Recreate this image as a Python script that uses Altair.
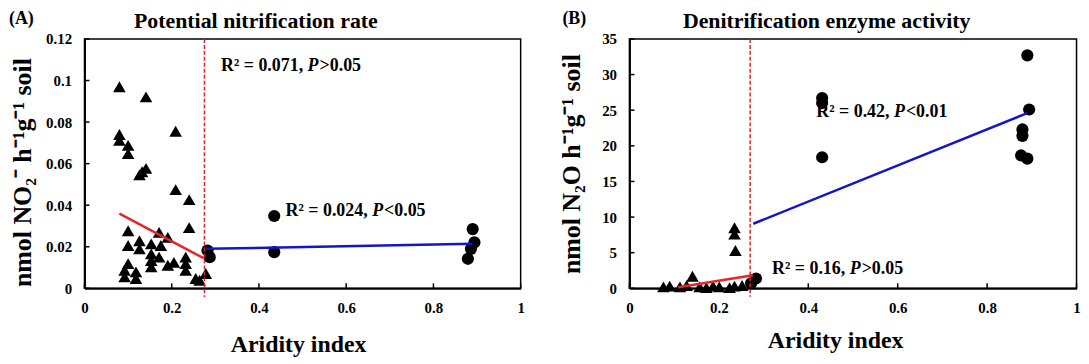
import altair as alt
import pandas as pd

FONT = "Liberation Serif"

# ---------------- shared axis ticks ----------------
x_ticks = [0, 0.2, 0.4, 0.6, 0.8, 1]
a_y_ticks = [0, 0.02, 0.04, 0.06, 0.08, 0.1, 0.12]
b_y_ticks = [0, 5, 10, 15, 20, 25, 30, 35]

# ---------------- Panel A: potential nitrification rate ----------------
a_tri_x = [0.080, 0.141, 0.209, 0.080, 0.080, 0.100, 0.100, 0.126, 0.141, 0.132,
           0.209, 0.240, 0.240, 0.100, 0.100, 0.126, 0.126, 0.153, 0.171, 0.191,
           0.175, 0.153, 0.153, 0.153, 0.100, 0.092, 0.092, 0.118, 0.118, 0.191,
           0.232, 0.232, 0.232, 0.171, 0.255, 0.278, 0.264, 0.205]
a_tri_y = [0.0970, 0.0921, 0.0756, 0.0740, 0.0712, 0.0688, 0.0648, 0.0546, 0.0577, 0.0561,
           0.0475, 0.0427, 0.0292, 0.0277, 0.0206, 0.0229, 0.0190, 0.0214, 0.0269, 0.0245,
           0.0206, 0.0166, 0.0134, 0.0103, 0.0119, 0.0087, 0.0055, 0.0079, 0.0047, 0.0111,
           0.0150, 0.0119, 0.0087, 0.0150, 0.0047, 0.0071, 0.0039, 0.0125]
a_cir_x = [0.435, 0.435, 0.282, 0.287, 0.890, 0.894, 0.886, 0.879]
a_cir_y = [0.0348, 0.0174, 0.0182, 0.0150, 0.0285, 0.0221, 0.0190, 0.0142]
a_red_x = [0.080, 0.273]
a_red_y = [0.0359, 0.0145]
a_blue_x = [0.279, 0.890]
a_blue_y = [0.0190, 0.0214]
a_cut = 0.275
a_anno_x = [0.313, 0.461]
a_anno_y = [0.1068, 0.0372]
a_anno_pre = ["R\u00b2 = 0.071,", "R\u00b2 = 0.024,"]
a_anno_post = [">0.05", "<0.05"]

# ---------------- Panel B: denitrification enzyme activity ----------------
b_tri_x = [0.076, 0.090, 0.113, 0.141, 0.157, 0.172, 0.187, 0.201, 0.224, 0.235,
           0.252, 0.235, 0.235, 0.237, 0.128]
b_tri_y = [0.2, 0.3, 0.2, 1.7, 0.2, 0.1, 0.3, 0.2, 0.1, 0.3,
           0.4, 8.5, 7.6, 5.3, 0.4]
b_cir_x = [0.283, 0.272, 0.431, 0.431, 0.431, 0.890, 0.894, 0.879, 0.879, 0.876, 0.890]
b_cir_y = [1.38, 0.7, 26.7, 26.0, 18.4, 32.7, 25.1, 22.3, 21.4, 18.65, 18.2]
b_red_x = [0.109, 0.276]
b_red_y = [0.14, 1.84]
b_blue_x = [0.277, 0.890]
b_blue_y = [9.06, 24.6]
b_cut = 0.27
b_anno_x = [0.418, 0.319]
b_anno_y = [24.8, 2.76]
b_anno_pre = ["R\u00b2 = 0.42,", "R\u00b2 = 0.16,"]
b_anno_post = ["<0.01", ">0.05"]

ANNO_FS = 18


def panel(W, H, ymax, yticks, yfmt, ylow, tri_x, tri_y, cir_x, cir_y, red_x, red_y,
          blue_x, blue_y, cut, ytitle, ytx, yty, xtx, xty, title, title_cx,
          tag, tag_x, anno_x, anno_y, anno_pre, anno_post, pre_em):
    xs = alt.Scale(domain=[0, 1], nice=False, zero=False)
    ys = alt.Scale(domain=[0, ymax], nice=False)
    xax = alt.Axis(values=x_ticks, format=".1~f", ticks=False, tickSize=0, grid=False,
                   domainColor="black", domainWidth=2,
                   labelFont=FONT, labelFontSize=15, labelFontWeight="bold",
                   labelColor="black", labelPadding=12, labelFlush=False,
                   labelOverlap=False,
                   title="Aridity index", titleFont=FONT, titleFontSize=24,
                   titleFontWeight="bold", titleColor="black", titleX=xtx,
                   titleY=xty, titleBaseline="middle", titleAlign="center")
    yax = alt.Axis(values=yticks, format=yfmt, ticks=False, tickSize=0, grid=False,
                   domainColor="black", domainWidth=2,
                   labelFont=FONT, labelFontSize=15, labelFontWeight="bold",
                   labelColor="black", labelPadding=13, labelFlush=False,
                   labelOverlap=False,
                   title=ytitle, titleFont=FONT, titleFontSize=26,
                   titleFontWeight="bold", titleColor="black", titleX=ytx,
                   titleY=yty, titleAngle=-90, titleBaseline="middle",
                   titleAlign="center")

    def X(f):
        return alt.X(f, type="quantitative", scale=xs, axis=xax)

    def Y(f):
        return alt.Y(f, type="quantitative", scale=ys, axis=yax)

    layers = []
    # annotations (drawn under the markers)
    for i in range(len(anno_x)):
        d = pd.DataFrame({"x": [anno_x[i]], "y": [anno_y[i]],
                          "a": [anno_pre[i]], "b": ["P"], "c": [anno_post[i]]})
        base = alt.Chart(d).encode(x=X("x"), y=Y("y"))
        dxp = pre_em[i] * ANNO_FS
        layers.append(base.mark_text(font=FONT, fontSize=ANNO_FS, fontWeight="bold",
                                     align="left", baseline="middle", color="black"
                                     ).encode(text="a:N"))
        layers.append(base.mark_text(font=FONT, fontSize=ANNO_FS, fontWeight="bold",
                                     fontStyle="italic", align="left", baseline="middle",
                                     color="black", dx=dxp).encode(text="b:N"))
        layers.append(base.mark_text(font=FONT, fontSize=ANNO_FS, fontWeight="bold",
                                     align="left", baseline="middle", color="black",
                                     dx=dxp + 0.667 * ANNO_FS).encode(text="c:N"))

    # inward tick marks
    xt = pd.DataFrame({"x": x_ticks})
    layers.append(alt.Chart(xt).mark_rule(color="black", strokeWidth=1.5).encode(
        x=X("x"), y=alt.value(H), y2=alt.value(H - 5)))
    yt = pd.DataFrame({"y": yticks})
    layers.append(alt.Chart(yt).mark_rule(color="black", strokeWidth=1.5).encode(
        y=Y("y"), x=alt.value(0), x2=alt.value(5)))

    # markers
    tri = pd.DataFrame({"x": tri_x, "y": tri_y})
    layers.append(alt.Chart(tri).mark_point(shape="triangle-up", filled=True, size=160,
                                            color="black", opacity=1).encode(
        x=X("x"), y=Y("y")))
    cir = pd.DataFrame({"x": cir_x, "y": cir_y})
    layers.append(alt.Chart(cir).mark_point(shape="circle", filled=True, size=150,
                                            color="black", opacity=1).encode(
        x=X("x"), y=Y("y")))

    # dashed threshold line
    cd = pd.DataFrame({"x": [cut], "y": [ymax], "y2": [ylow]})
    layers.append(alt.Chart(cd).mark_rule(color="#d8282c", strokeWidth=1.5,
                                          strokeDash=[4, 2]).encode(
        x=X("x"), y=Y("y"), y2="y2"))

    # regression lines
    rd = pd.DataFrame({"x": red_x, "y": red_y})
    layers.append(alt.Chart(rd).mark_line(color="#e3262a", strokeWidth=2.5).encode(
        x=X("x"), y=Y("y")))
    bd = pd.DataFrame({"x": blue_x, "y": blue_y})
    layers.append(alt.Chart(bd).mark_line(color="#1414c8", strokeWidth=2.5).encode(
        x=X("x"), y=Y("y")))

    # panel tag and title
    td = pd.DataFrame({"t": [tag], "s": [title]})
    layers.append(alt.Chart(td).mark_text(font=FONT, fontSize=18, fontWeight="bold",
                                          align="left", baseline="middle",
                                          color="black").encode(
        text="t:N", x=alt.value(tag_x), y=alt.value(-20)))
    layers.append(alt.Chart(td).mark_text(font=FONT, fontSize=22, fontWeight="bold",
                                          align="center", baseline="middle",
                                          color="black").encode(
        text="s:N", x=alt.value(title_cx), y=alt.value(-18)))

    return alt.layer(*layers).properties(width=W, height=H)


pa = panel(439, 251, 0.12, a_y_ticks, ".2~f", -0.0042, a_tri_x, a_tri_y, a_cir_x, a_cir_y,
           a_red_x, a_red_y, a_blue_x, a_blue_y, a_cut,
           "nmol NO\u2082\u207b h\u207b\u00b9g\u207b\u00b9 soil", -62, 134, 215, 56.7,
           "Potential nitrification rate", 172.5, "(A)", -76,
           a_anno_x, a_anno_y, a_anno_pre, a_anno_post, [4.842, 4.842])

pb = panel(450, 251, 35, b_y_ticks, "d", -1.2, b_tri_x, b_tri_y, b_cir_x, b_cir_y,
           b_red_x, b_red_y, b_blue_x, b_blue_y, b_cut,
           "nmol N\u2082O h\u207b\u00b9g\u207b\u00b9 soil", -58, 125.5, 207, 52.2,
           "Denitrification enzyme activity", 198.5, "(B)", -67.5,
           b_anno_x, b_anno_y, b_anno_pre, b_anno_post, [4.342, 4.342])

chart = alt.hconcat(pa, pb, spacing=109.5, bounds="flush").properties(
    padding=0, background="white"
).configure_view(stroke="black", strokeWidth=1.5)

chart.save("out.html", embed_options={"renderer": "svg", "actions": False})
